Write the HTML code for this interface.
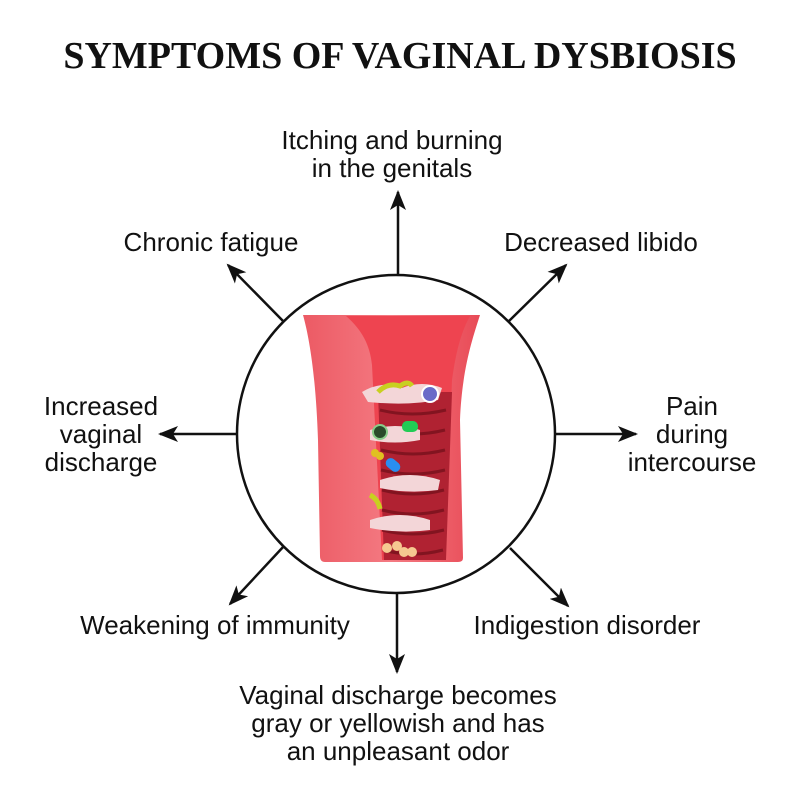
<!DOCTYPE html>
<html><head><meta charset="utf-8"><style>
body{margin:0;background:#fff;width:800px;height:800px;overflow:hidden;position:relative;font-family:"Liberation Sans",sans-serif;}
.t{position:absolute;font-size:26px;color:#111;text-align:center;line-height:28px;white-space:nowrap;width:400px;margin-left:-200px}
h1{position:absolute;top:34px;left:0;width:800px;margin:0;text-align:center;font-family:"Liberation Serif",serif;font-weight:bold;font-size:38px;color:#111}
</style></head><body>
<h1>SYMPTOMS OF VAGINAL DYSBIOSIS</h1>
<svg width="800" height="800" style="position:absolute;left:0;top:0">
<defs>
<marker id="b" markerWidth="20" markerHeight="20" refX="18" refY="10" orient="auto" markerUnits="userSpaceOnUse" viewBox="0 0 20 20"><path d="M0,2 L20,10 L0,18 L5,10z" fill="#111"/></marker>
<linearGradient id="g" x1="0" x2="1"><stop offset="0" stop-color="#ec5a64"/><stop offset=".5" stop-color="#f47a82"/><stop offset="1" stop-color="#e84a56"/></linearGradient>
</defs>
<g stroke="#111" stroke-width="2.5" fill="none">
<circle cx="396" cy="434" r="159"/>
<line x1="398" y1="275" x2="398" y2="192" marker-end="url(#b)"/>
<line x1="555" y1="434" x2="636" y2="434" marker-end="url(#b)"/>
<line x1="237" y1="434" x2="160" y2="434" marker-end="url(#b)"/>
<line x1="397" y1="593" x2="397" y2="672" marker-end="url(#b)"/>
<line x1="508" y1="322" x2="566" y2="265" marker-end="url(#b)"/>
<line x1="284" y1="322" x2="228" y2="265" marker-end="url(#b)"/>
<line x1="284" y1="546" x2="230" y2="604" marker-end="url(#b)"/>
<line x1="510" y1="548" x2="568" y2="606" marker-end="url(#b)"/>
</g>
<path d="M303,315 L480,315 C472,340 462,370 460,420 L463,558 Q463,562 458,562 L325,562 Q320,562 320,556 L318,440 C316,380 310,340 303,315z" fill="url(#g)"/>
<path d="M346,316 C362,330 370,345 372,365 L382,560 L445,560 L452,380 C456,350 462,330 470,316z" fill="#ee4450"/>
<path d="M378,392 L452,392 L446,560 L384,560z" fill="#b02232"/>
<g stroke="#821420" stroke-width="3" fill="none">
<path d="M380,410 q32,8 66,0 M381,430 q32,8 64,0 M381,450 q32,8 64,0 M381,470 q32,8 64,0 M382,490 q31,8 62,0 M382,510 q31,8 62,0 M382,530 q31,8 62,0 M383,550 q30,8 60,0"/>
</g>
<g fill="#f3d6d8"><path d="M362,392 q20,-12 40,-4 q20,-8 40,0 l-4,12 q-30,6 -70,2z"/><path d="M370,430 q25,-8 50,0 l0,10 q-25,5 -50,0z"/><path d="M380,480 q30,-10 60,0 l-2,10 q-30,4 -58,-2z"/><path d="M370,520 q30,-10 60,0 l0,10 q-30,4 -60,-2z"/></g>
<rect x="402" y="421" width="16" height="11" rx="5" fill="#22cc55"/>
<rect x="385" y="460" width="16" height="10" rx="5" fill="#2a8ef0" transform="rotate(40 393 465)"/>
<circle cx="430" cy="394" r="8" fill="#6a6ac8" stroke="#fff" stroke-width="2"/>
<circle cx="380" cy="432" r="7" fill="#2a4a2a" stroke="#8c8" stroke-width="2"/>
<path d="M378,392 q10,-10 22,-6 q8,-6 12,0" stroke="#c8d020" stroke-width="5" fill="none"/>
<path d="M370,495 q8,4 10,14" stroke="#c8d020" stroke-width="5" fill="none"/>
<g fill="#f6c890"><circle cx="387" cy="548" r="5"/><circle cx="397" cy="546" r="5"/><circle cx="404" cy="552" r="5"/><circle cx="412" cy="552" r="5"/></g>
<circle cx="375" cy="453" r="4" fill="#e0c020"/><circle cx="380" cy="456" r="4" fill="#e0c020"/>
</svg>
<div class="t" style="left:392px;top:126px;">Itching and burning<br>in the genitals</div>
<div class="t" style="left:211px;top:228px;">Chronic fatigue</div>
<div class="t" style="left:601px;top:228px;">Decreased libido</div>
<div class="t" style="left:101px;top:392px;">Increased<br>vaginal<br>discharge</div>
<div class="t" style="left:692px;top:392px;">Pain<br>during<br>intercourse</div>
<div class="t" style="left:215px;top:611px;">Weakening of immunity</div>
<div class="t" style="left:587px;top:611px;">Indigestion disorder</div>
<div class="t" style="left:398px;top:681px;">Vaginal discharge becomes<br>gray or yellowish and has<br>an unpleasant odor</div>
</body></html>
